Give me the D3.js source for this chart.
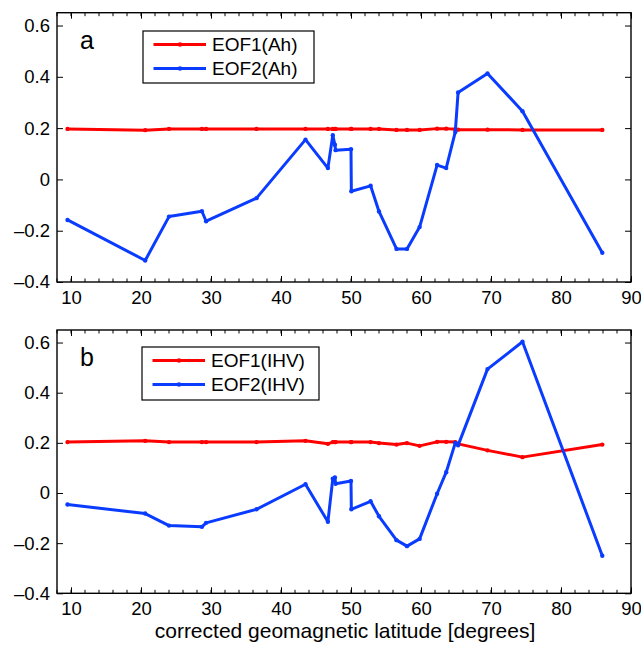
<!DOCTYPE html>
<html>
<head>
<meta charset="utf-8">
<script src="https://cdn.jsdelivr.net/npm/d3@7"></script>
<style>
  body { margin: 0; background: #fff; }
  svg { display: block; font-family: "Liberation Sans", Arial, Helvetica, sans-serif; }
</style>
</head>
<body>
<svg id="fig" width="641" height="647"></svg>
<script>
// corrected geomagnetic latitude of each station
const lat = [9.5, 20.6, 24.0, 28.7, 29.3, 36.5, 43.5, 46.7, 47.4, 47.7, 47.8, 50.0, 50.05,
             52.8, 54.0, 56.5, 58.0, 59.8, 62.3, 63.6, 64.9, 65.3, 69.5, 74.5, 85.9];

const eof1Ah  = [0.197, 0.192, 0.197, 0.197, 0.197, 0.197, 0.197, 0.197, 0.197, 0.197, 0.197, 0.197, 0.197,
                 0.197, 0.197, 0.193, 0.193, 0.193, 0.198, 0.198, 0.196, 0.194, 0.194, 0.193, 0.193];
const eof2Ah  = [-0.158, -0.316, -0.145, -0.124, -0.163, -0.073, 0.155, 0.044, 0.172, 0.135, 0.114, 0.118, -0.046,
                 -0.025, -0.125, -0.271, -0.271, -0.186, 0.056, 0.044, 0.185, 0.339, 0.413, 0.266, -0.286];
const eof1IHV = [0.203, 0.208, 0.203, 0.203, 0.203, 0.203, 0.208, 0.196, 0.203, 0.203, 0.203, 0.203, 0.203,
                 0.203, 0.199, 0.193, 0.199, 0.188, 0.204, 0.204, 0.203, 0.196, 0.170, 0.143, 0.193];
const eof2IHV = [-0.046, -0.082, -0.130, -0.135, -0.119, -0.065, 0.035, -0.115, 0.057, 0.062, 0.037, 0.048, -0.065,
                 -0.033, -0.093, -0.188, -0.212, -0.183, -0.003, 0.083, 0.200, 0.190, 0.494, 0.603, -0.250];

const xTicks = [10, 20, 30, 40, 50, 60, 70, 80, 90];
const yTicks = [-0.4, -0.2, 0, 0.2, 0.4, 0.6];
const xLabel = "corrected geomagnetic latitude [degrees]";

const RED = "#ff0000", BLUE = "#0a3cff";

const svg = d3.select("#fig");

const panels = [
  { tag: "a", top: 12.7, bottom: 282, s1: eof1Ah, s2: eof2Ah, n1: "EOF1(Ah)", n2: "EOF2(Ah)",
    leg: { x: 143, y: 31, w: 171, h: 52 } },
  { tag: "b", top: 330, bottom: 593.3, s1: eof1IHV, s2: eof2IHV, n1: "EOF1(IHV)", n2: "EOF2(IHV)",
    leg: { x: 142, y: 347, w: 177, h: 53 } }
];

const x = d3.scaleLinear().domain([8, 90]).range([57, 631]);
const minor = d3.range(8, 91, 2);

const fmtY = v => v === 0 ? "0" : (v < 0 ? "\u2013" : "") + Math.abs(v).toFixed(1);

panels.forEach(p => {
  const y = d3.scaleLinear().domain([-0.4, 0.65]).range([p.bottom, p.top]);
  const g = svg.append("g");

  // minor ticks, bottom and top, pointing inward
  g.selectAll(".mnb").data(minor).join("line")
    .attr("x1", d => x(d)).attr("x2", d => x(d))
    .attr("y1", p.bottom).attr("y2", p.bottom - 3.5)
    .attr("stroke", "#000").attr("stroke-width", 1);
  g.selectAll(".mnt").data(minor).join("line")
    .attr("x1", d => x(d)).attr("x2", d => x(d))
    .attr("y1", p.top).attr("y2", p.top + 3.5)
    .attr("stroke", "#000").attr("stroke-width", 1);

  // axes
  const bottomAx = g.append("g").attr("transform", `translate(0,${p.bottom})`)
    .call(d3.axisBottom(x).tickValues(xTicks).tickSizeInner(-6).tickSizeOuter(0).tickPadding(9));
  const topAx = g.append("g").attr("transform", `translate(0,${p.top})`)
    .call(d3.axisTop(x).tickValues(xTicks).tickSizeInner(-6).tickSizeOuter(0).tickFormat(""));
  const leftAx = g.append("g").attr("transform", `translate(57,0)`)
    .call(d3.axisLeft(y).tickValues(yTicks).tickSizeInner(-6).tickSizeOuter(0).tickPadding(7).tickFormat(fmtY));
  const rightAx = g.append("g").attr("transform", `translate(631,0)`)
    .call(d3.axisRight(y).tickValues(yTicks).tickSizeInner(-6).tickSizeOuter(0).tickFormat(""));

  [bottomAx, topAx, leftAx, rightAx].forEach(a => {
    a.select(".domain").remove();
    a.selectAll("line").attr("stroke", "#000").attr("stroke-width", 1);
    a.selectAll("text").attr("fill", "#000").style("font-size", "18.5px")
      .style("font-family", "'Liberation Sans', Arial, sans-serif");
  });

  g.append("rect")
    .attr("x", 57).attr("y", p.top).attr("width", 631 - 57).attr("height", p.bottom - p.top)
    .attr("fill", "none").attr("stroke", "#000").attr("stroke-width", 1.4);

  // series
  const line = d3.line().x((d, i) => x(lat[i])).y(d => y(d));
  [[p.s1, RED], [p.s2, BLUE]].forEach(([s, c]) => {
    g.append("path").datum(s).attr("d", line)
      .attr("fill", "none").attr("stroke", c).attr("stroke-width", 3)
      .attr("stroke-linejoin", "round");
    g.selectAll(null).data(s).join("circle")
      .attr("cx", (d, i) => x(lat[i])).attr("cy", d => y(d)).attr("r", 2.2)
      .attr("fill", c);
  });

  // panel tag
  g.append("text").attr("x", 80).attr("y", p.top + 36)
    .style("font-size", "25px").text(p.tag);

  // legend
  const L = p.leg;
  g.append("rect").attr("x", L.x).attr("y", L.y).attr("width", L.w).attr("height", L.h)
    .attr("fill", "#fff").attr("stroke", "#000").attr("stroke-width", 1.2);
  [[p.n1, RED, 13.5], [p.n2, BLUE, 37.5]].forEach(([n, c, dy]) => {
    const yy = L.y + dy;
    g.append("line").attr("x1", L.x + 10.5).attr("x2", L.x + 63).attr("y1", yy).attr("y2", yy)
      .attr("stroke", c).attr("stroke-width", 3);
    g.append("circle").attr("cx", L.x + 37).attr("cy", yy).attr("r", 2.2).attr("fill", c);
    g.append("text").attr("x", L.x + 69).attr("y", yy + 6.5)
      .style("font-size", "19px").text(n);
  });
});

svg.append("text").attr("x", 345).attr("y", 638).attr("text-anchor", "middle")
  .style("font-size", "21px").text(xLabel);
</script>
</body>
</html>
